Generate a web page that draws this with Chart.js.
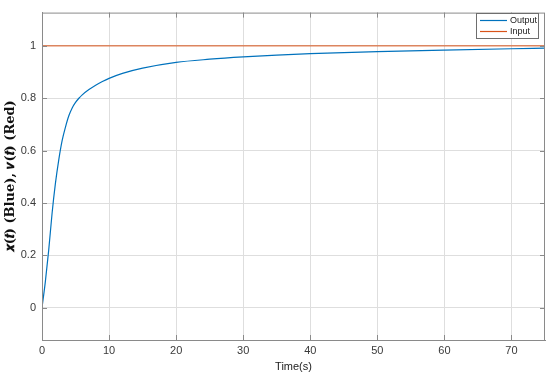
<!DOCTYPE html>
<html>
<head>
<meta charset="utf-8">
<script src="https://cdn.jsdelivr.net/npm/chart.js@4.4.1/dist/chart.umd.min.js"></script>
<style>
    html, body { margin: 0; padding: 0; background: #fff; }
    #wrap { width: 550px; height: 374px; }
</style>
</head>
<body>
<div id="wrap"><canvas id="stepChart"></canvas></div>
<script>
// Data
const timeS = [0, 0.5, 1, 1.5, 2, 2.5, 3, 3.5, 4, 4.5, 5, 5.5, 6, 7, 8, 9, 10, 12, 15, 20, 25, 30, 35, 40, 50, 60, 70, 75];
const outputVals = [0, 0.1, 0.22, 0.36, 0.475, 0.565, 0.638, 0.69, 0.733, 0.763, 0.784, 0.80, 0.813, 0.833, 0.85, 0.864, 0.876, 0.895, 0.915, 0.937, 0.949, 0.958, 0.965, 0.970, 0.978, 0.984, 0.989, 0.991];
const inputTime = [0, 75];
const inputVals = [1, 1];
const xTicks = [0, 10, 20, 30, 40, 50, 60, 70];
const yTicks = [0, 0.2, 0.4, 0.6, 0.8, 1];

const axisColor = "#8a8a8a";
const textColor = "#3a3a3a";

// box around the axes + inward tick marks + legend in upper right
const matlabBox = {
    id: "matlabBox",
    afterDraw(chart) {
        const { ctx, chartArea: a, scales } = chart;
        ctx.save();
        ctx.strokeStyle = axisColor;
        ctx.lineWidth = 1;
        ctx.strokeRect(a.left + 0.5, a.top + 0.5, a.right - a.left - 1, a.bottom - a.top);

        // tick marks
        ctx.beginPath();
        xTicks.forEach(v => {
            const x = Math.round(scales.x.getPixelForValue(v)) + 0.5;
            ctx.moveTo(x, a.bottom); ctx.lineTo(x, a.bottom - 5);
            ctx.moveTo(x, a.top); ctx.lineTo(x, a.top + 5);
        });
        yTicks.forEach(v => {
            const y = Math.round(scales.y.getPixelForValue(v)) + 0.5;
            ctx.moveTo(a.left, y); ctx.lineTo(a.left + 5, y);
            ctx.moveTo(a.right, y); ctx.lineTo(a.right - 5, y);
        });
        ctx.stroke();

        // legend
        const bx = 476, by = 13, bw = 62, bh = 25;
        ctx.fillStyle = "#fff";
        ctx.fillRect(bx, by, bw, bh);
        ctx.strokeStyle = "#6e6e6e";
        ctx.strokeRect(bx + 0.5, by + 0.5, bw, bh);
        ctx.font = "9px 'Liberation Sans', Arial, sans-serif";
        ctx.textBaseline = "middle";
        chart.data.datasets.forEach((ds, i) => {
            const y = by + 7 + i * 11;
            ctx.strokeStyle = ds.borderColor;
            ctx.lineWidth = 1.2;
            ctx.beginPath();
            ctx.moveTo(bx + 4, y + 0.5);
            ctx.lineTo(bx + 31, y + 0.5);
            ctx.stroke();
            ctx.fillStyle = "#222";
            ctx.fillText(ds.label, bx + 34, y + 1);
        });
        ctx.restore();
    }
};

new Chart(document.getElementById("stepChart"), {
    type: "line",
    data: {
        datasets: [
            {
                label: "Output",
                data: timeS.map((t, i) => ({ x: t, y: outputVals[i] })),
                borderColor: "#0072BD",
                borderWidth: 1.2,
                pointRadius: 0,
                cubicInterpolationMode: "monotone",
                fill: false
            },
            {
                label: "Input",
                data: inputTime.map((t, i) => ({ x: t, y: inputVals[i] })),
                borderColor: "#D95319",
                borderWidth: 1,
                pointRadius: 0,
                fill: false
            }
        ]
    },
    options: {
        responsive: true,
        maintainAspectRatio: false,
        animation: false,
        layout: { padding: { left: 3, top: 5, right: 5, bottom: 0 } },
        plugins: {
            legend: { display: false },
            tooltip: { enabled: false }
        },
        scales: {
            x: {
                type: "linear",
                min: 0,
                max: 75,
                afterBuildTicks: s => { s.ticks = xTicks.map(v => ({ value: v })); },
                afterFit: s => { s.height = 34; },
                ticks: {
                    color: textColor,
                    padding: 4,
                    font: { family: "'Liberation Sans', Arial, sans-serif", size: 11 }
                },
                grid: { color: "#dedede", lineWidth: 1, drawTicks: false },
                border: { color: axisColor },
                title: {
                    display: true,
                    text: "Time(s)",
                    color: "#222",
                    padding: { top: 1, bottom: 0 },
                    font: { family: "'Liberation Sans', Arial, sans-serif", size: 11 }
                }
            },
            y: {
                type: "linear",
                min: -0.123,
                max: 1.127,
                afterBuildTicks: s => { s.ticks = yTicks.map(v => ({ value: v })); },
                afterFit: s => { s.width = 39; },
                ticks: {
                    color: textColor,
                    padding: 6,
                    font: { family: "'Liberation Sans', Arial, sans-serif", size: 11 },
                    callback: v => String(Math.round(v * 10) / 10)
                },
                grid: { color: "#dedede", lineWidth: 1, drawTicks: false },
                border: { color: axisColor },
                title: {
                    display: true,
                    text: "𝒙(𝒕) (Blue), 𝒗(𝒕) (Red)",
                    color: "#111",
                    padding: { top: 0, bottom: 3 },
                    font: { family: "'DejaVu Serif', 'Liberation Serif', serif", size: 13, weight: "bold" }
                }
            }
        }
    },
    plugins: [matlabBox]
});
</script>
</body>
</html>
